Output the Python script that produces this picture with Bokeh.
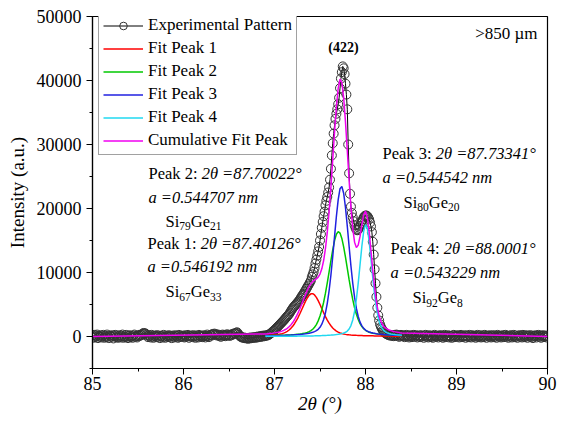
import numpy as np
from bokeh.plotting import figure
from bokeh.models import Range1d, FixedTicker, Label, Legend, LegendItem
from bokeh.embed import file_html
from bokeh.resources import INLINE

# ---------------- Experimental pattern (2theta step 0.01 deg) ----------------
STEP = 0.01
left_start = 85.00
left_baseline = [
    150, -200, 250, -100, 50, 300, -250, 100, -50, 200,
    -150, 50, 250, -200, 100, -100, 300, 0, -250, 150,
    100, -50, 200, -300, 50, 250, -100, 150, -200, 0,
    200, -150, 100, 300, -200, 50, -100, 250, 0, -250,
    100, 200, -100, 50, -200, 150, 300, -50, 100, -150,
    50, 250, 100, 300, 200, 400, 550, 450, 500, 300,
    150, -100, 200, 50, -150, 250, 0, -200, 100, 150,
    -100, 200, -50, 150, -250, 100, 50, -150, 250, 0,
    -200, 150, 50, -100, 200, -50, 100, -250, 150, 50,
    -150, 200, 0, 100, -200, 250, -100, 50, 150, -50,
    100, -150, 200, -50, 50, 250, -200, 100, 0, 150,
    -100, 200, 50, -200, 150, 0, -150, 250, 100, -50,
    150, -100, 50, 200, -150, 100, 300, 50, -100, 200,
    250, 150, 400, 300, 450, 250, 350, 150, 300, 100,
    200, -50, 150, 300, 100, 250, 50, 200, 350, 150,
    250, 100, 300, 200, 400, 350, 500, 450, 600, 650,
    450, 250, 50, -50, -100, -200, -150, -250, -200, -300,
    -250, -350, -200, -300, -150, -250, -150, -200, -100, -200,
    -50, -150, 0, -100, 50, -50, 100, 0, 150, 50,
    150, 100, 250, 200, 300, 400,
]
peak_start = 86.96
peak_counts = [
    500, 650, 780, 900,
    1000, 1150, 1300, 1450, 1600, 1750, 1900, 2050, 2200, 2350,
    2500, 2650, 2830, 3000, 3170, 3330, 3500, 3730, 3970, 4200,
    4400, 4600, 4770, 4930, 5100, 5270, 5430, 5600, 5830, 6070,
    6300, 6500, 6700, 6950, 7200, 7450, 7700, 7950, 8200, 8470,
    8750, 9300, 9700, 10100, 10700, 11400, 12000, 12650, 13300, 14000,
    15000, 16000, 17000, 17900, 18800, 19500, 20500, 21200, 21800, 22500,
    23300, 24500, 26200, 28300, 30200, 31700, 33000, 34000, 34800, 35500,
    36300, 37300, 38800, 40300, 41300, 42200, 41900, 41000, 39500, 37800,
    35500, 30000, 25500, 22300, 20300, 19300, 18600, 18000, 17400, 17000,
    16700, 16600, 16700, 17000, 17300, 17700, 18000, 18300, 18600, 18800,
    18900, 18900, 18800, 18600, 18300, 17800, 17200, 16300, 14800, 12800,
    10500, 8300, 6200, 4500, 3300, 2500, 1900, 1500, 1200, 950,
    750, 600, 500, 400, 320, 250, 200,
]
right_start = 88.27
right_baseline = [
    150, 250, 100,
    200, 50, 250, 150, 300, 100, 200, -50, 150, 250,
    50, 200, 100, -100, 150, 250, 0, 100, -150, 200,
    50, -100, 150, 250, -50, 100, 200, -150, 50, 150,
    -100, 200, 0, 100, -200, 150, 250, -50, 100, -150,
    200, 50, -100, 150, -200, 100, 250, -50, 0, 150,
    -150, 100, 200, -50, 150, -200, 50, 250, -100, 100,
    0, 200, -150, 100, 50, -200, 150, 250, -100, 50,
    150, -50, 200, -150, 100, 250, -100, 50, 0, 200,
    -200, 150, 50, -100, 250, 0, -150, 200, 100, -50,
    150, -200, 100, 250, -100, 50, 200, -150, 0, 150,
    -100, 250, 50, -200, 150, 100, -50, 200, -150, 50,
    200, -100, 150, 0, -200, 250, 100, -50, 150, -150,
    50, 200, -100, 150, 250, -50, 100, -200, 150, 0,
    200, -150, 50, 250, -100, 150, 0, -200, 100, 200,
    -50, 150, -150, 250, 50, -100, 200, 100, -200, 150,
    0, 200, -100, 150, -250, 100, 50, 200, -150, 100,
    250, -50, 150, -200, 100, 200, -100, 50, 150, -150, 100,
]

# ---------------- Fitted peaks (2theta step 0.02 deg from 86.90) ----------------
FIT_STEP = 0.02
fit_start = 86.90
fit_peak1 = [
    164, 176, 191, 208, 229, 254, 284, 324, 375, 442,
    532, 652, 809, 1014, 1275, 1601, 1997, 2464, 3000, 3593,
    4225, 4866, 5480, 6019, 6429, 6661, 6683, 6491, 6113, 5595,
    4993, 4353, 3717, 3115, 2566, 2084, 1674, 1335, 1061, 846,
    680, 554, 458, 387, 333, 291, 259, 233, 212, 194,
    179, 166, 154, 144, 134, 126, 118, 111, 105, 99,
    93, 88, 84, 79, 75, 72, 68, 65, 62, 60,
    57, 54, 52, 50, 48, 46,
]
fit_peak2 = [
    116, 122, 129, 135, 143, 151, 159, 169, 179, 190,
    203, 216, 231, 248, 266, 286, 309, 335, 365, 399,
    440, 491, 555, 639, 753, 911, 1132, 1440, 1866, 2440,
    3198, 4165, 5354, 6765, 8367, 10101, 11872, 13550, 14976, 15974,
    16392, 16164, 15327, 14013, 12391, 10635, 8877, 7228, 5755, 4497,
    3465, 2647, 2021, 1554, 1214, 970, 795, 670, 577, 508,
    454, 411, 375, 344, 316, 293, 272, 253, 236, 221,
    207, 194, 182, 172, 162, 153,
]
fit_peak3 = [
    100, 105, 110, 115, 122, 128, 135, 143, 151, 161,
    171, 182, 194, 207, 222, 238, 256, 276, 299, 325,
    354, 387, 425, 469, 521, 584, 662, 766, 910, 1121,
    1439, 1922, 2647, 3704, 5183, 7149, 9613, 12506, 15651, 18751,
    21392, 23090, 23454, 22388, 20159, 17230, 14062, 11014, 8321, 6103,
    4386, 3128, 2249, 1655, 1263, 1005, 832, 710, 621, 551,
    494, 446, 405, 370, 339, 312, 287, 266, 247, 230,
    214, 200, 187, 176, 165, 156,
]
fit_peak4 = [
    27, 28, 30, 31, 32, 33, 35, 36, 38, 39,
    41, 43, 45, 47, 49, 52, 54, 57, 60, 64,
    67, 71, 75, 80, 85, 91, 97, 104, 112, 120,
    130, 140, 152, 166, 181, 199, 219, 243, 271, 304,
    343, 391, 451, 534, 655, 847, 1168, 1708, 2589, 3940,
    5858, 8337, 11210, 14100, 16417, 17481, 16896, 14887, 12098, 9171,
    6547, 4454, 2939, 1931, 1302, 926, 703, 565, 473, 407,
    356, 315, 280, 251, 226, 205,
]
range_ends = [85.0, 90.0]   # cumulative fit drawn over the full scan, zero outside the peaks


def seg_x(start, n, step):
    return [round(start + step * i, 2) for i in range(n)]


exp_x = (seg_x(left_start, len(left_baseline), STEP) + seg_x(peak_start, len(peak_counts), STEP)
         + seg_x(right_start, len(right_baseline), STEP))
exp_y = left_baseline + peak_counts + right_baseline

fit_x = seg_x(fit_start, len(fit_peak1), FIT_STEP)
cum_sum = (np.array(fit_peak1) + np.array(fit_peak2) + np.array(fit_peak3) + np.array(fit_peak4)).tolist()
cum_x = [range_ends[0]] + fit_x + [range_ends[1]]
cum_y = [0] + cum_sum + [0]

FONT = "Liberation Serif"

p = figure(width=558, height=420, x_range=Range1d(85, 90), y_range=Range1d(-5000, 50000),
           output_backend="svg", toolbar_location=None,
           min_border_left=92, min_border_right=11, min_border_top=16, min_border_bottom=52)
p.xgrid.visible = False
p.ygrid.visible = False
p.outline_line_color = "black"
p.outline_line_width = 1.2
p.background_fill_color = "white"

p.xaxis.ticker = FixedTicker(ticks=[85, 86, 87, 88, 89, 90], minor_ticks=[85.5, 86.5, 87.5, 88.5, 89.5])
p.yaxis.ticker = FixedTicker(ticks=[0, 10000, 20000, 30000, 40000, 50000],
                             minor_ticks=[-5000, 5000, 15000, 25000, 35000, 45000])
for ax in (p.xaxis[0], p.yaxis[0]):
    ax.axis_line_color = "black"
    ax.axis_line_width = 1.2
    ax.major_tick_line_color = "black"
    ax.minor_tick_line_color = "black"
    ax.major_tick_in = 0
    ax.major_tick_out = 6
    ax.minor_tick_in = 0
    ax.minor_tick_out = 3
    ax.major_label_text_font = FONT
    ax.major_label_text_font_size = "18px"
    ax.major_label_text_color = "black"
    ax.axis_label_text_font = FONT
    ax.axis_label_text_font_size = "19px"
    ax.axis_label_text_color = "black"
p.xaxis.major_label_standoff = 2
p.yaxis.axis_label = "Intensity (a.u.)"
p.yaxis.axis_label_text_font_style = "normal"
p.yaxis.axis_label_standoff = 6
p.xaxis.axis_label = "2\u03b8 (\u00b0)"
p.xaxis.axis_label_text_font_style = "italic"
p.xaxis.axis_label_standoff = 0

r_line = p.line(exp_x, exp_y, line_color="black", line_width=1)
r_pts = p.scatter(exp_x, exp_y, marker="circle", size=9, fill_color=None, line_color="#333333", line_width=1)
r1 = p.line(fit_x, fit_peak1, line_color="#FF0000", line_width=1.5)
r2 = p.line(fit_x, fit_peak2, line_color="#00C800", line_width=1.5)
r3 = p.line(fit_x, fit_peak3, line_color="#2020E0", line_width=1.5)
r4 = p.line(fit_x, fit_peak4, line_color="#20D8F0", line_width=1.5)
r5 = p.line(cum_x, cum_y, line_color="#F000F0", line_width=1.5)

legend = Legend(items=[
    LegendItem(label="Experimental Pattern", renderers=[r_line, r_pts]),
    LegendItem(label="Fit Peak 1", renderers=[r1]),
    LegendItem(label="Fit Peak 2", renderers=[r2]),
    LegendItem(label="Fit Peak 3", renderers=[r3]),
    LegendItem(label="Fit Peak 4", renderers=[r4]),
    LegendItem(label="Cumulative Fit Peak", renderers=[r5]),
], location=(6, 213))
legend.margin = 0
legend.padding = 4
legend.spacing = 3
legend.glyph_height = 19
legend.label_height = 19
legend.glyph_width = 40
legend.label_standoff = 5
legend.label_text_font = FONT
legend.label_text_font_size = "17px"
legend.label_text_color = "black"
legend.border_line_color = "#444444"
legend.border_line_width = 1
legend.background_fill_alpha = 1
p.add_layout(legend, "center")

AF = "16.5px"
SUB = "11.5px"
EM = 16.5


def label(x, y, text, style="normal", size=AF, xo=0, yo=0, align="left", bold=False):
    p.add_layout(Label(x=x, y=y, text=text, x_offset=xo, y_offset=yo, text_font=FONT,
                       text_font_size=size, text_font_style=("bold" if bold else style),
                       text_align=align, text_baseline="middle", text_color="black"))


def peak_block(x, y1, y2, y3, xs, num, angle, a, si, ge):
    label(x, y1, "Peak %s: " % num)
    label(x, y1, "2\u03b8 =%s\u00b0" % angle, style="italic", xo=3.222 * EM)
    label(x, y2, "a =%s nm" % a, style="italic")
    label(xs, y3, "Si")
    label(xs, y3, si, size=SUB, xo=0.834 * EM, yo=-5)
    w_si = 0.834 * EM + 0.5 * 11.5 * len(si)
    label(xs, y3, "Ge", xo=w_si)
    label(xs, y3, ge, size=SUB, xo=w_si + 1.166 * EM, yo=-5)


peak_block(85.615, 25470, 21720, 17970, 85.802, "2", "87.70022", "0.544707", "79", "21")
peak_block(85.604, 14530, 10940, 7030, 85.802, "1", "87.40126", "0.546192", "67", "33")
peak_block(88.187, 28590, 24840, 20940, 88.418, "3", "87.73341", "0.544542", "80", "20")
peak_block(88.275, 13750, 10000, 6090, 88.516, "4", "88.0001", "0.543229", "92", "8")

label(87.758, 45160, "(422)", size="14px", align="center", bold=True)
label(89.89, 47340, ">850 \u00b5m", size="17px", align="right")

open("out.html", "w").write(file_html(p, INLINE))
